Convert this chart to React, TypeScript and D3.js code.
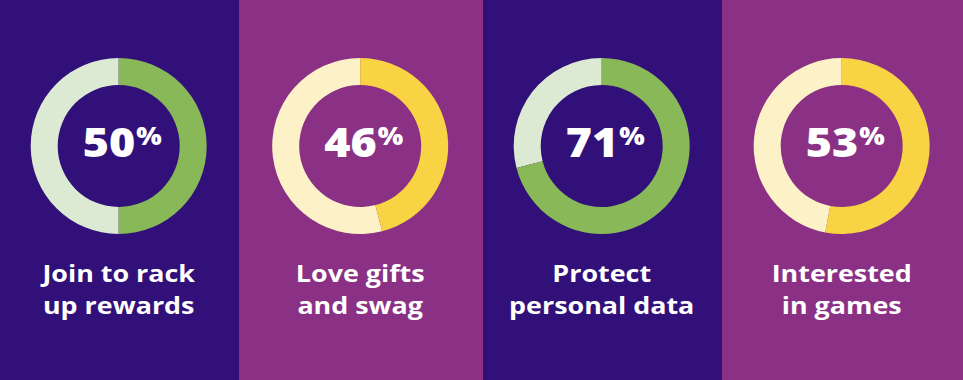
import React from "react";
import * as d3 from "d3";

const values = [50, 46, 71, 53];
const labelsLine1 = ["Join to rack", "Love gifts", "Protect", "Interested"];
const labelsLine2 = ["up rewards", "and swag", "personal data", "in games"];
const panelEdges = [0, 239, 483, 722, 963];
const bgColors = ["#32107a", "#8a3185", "#32107a", "#8a3185"];
const fillColors = ["#88b857", "#f8d444", "#88b857", "#f8d444"];
const restColors = ["#dceAd3", "#fdf1c8", "#dceAd3", "#fdf1c8"];

const W = 963;
const H = 380;
const FONT = "'Open Sans', 'Noto Sans', sans-serif";

export default function App() {
  const outerR = 88;
  const innerR = 61;
  const cy = 146;
  const arc = d3.arc<any>().innerRadius(innerR).outerRadius(outerR);
  const pct = d3.scaleLinear().domain([0, 100]).range([0, 2 * Math.PI]);
  return (
    <svg width={W} height={H} style={{ position: "absolute", left: 0, top: 0 }}>
      {values.map((v, i) => {
        const x0 = panelEdges[i];
        const x1 = panelEdges[i + 1];
        const cx = (x0 + x1) / 2 - 0.8;
        const a = pct(v);
        return (
          <g key={i}>
            <rect x={x0} y={0} width={x1 - x0} height={H} fill={bgColors[i]} />
            <g transform={`translate(${cx},${cy})`}>
              <path d={arc({ startAngle: a, endAngle: 2 * Math.PI }) as string} fill={restColors[i]} />
              <path d={arc({ startAngle: 0, endAngle: a }) as string} fill={fillColors[i]} />
              <g transform={`translate(3.5,11) scale(1.12,1)`}>
                <text
                  x={0}
                  y={0}
                  textAnchor="middle"
                  fill="#fff"
                  fontFamily={FONT}
                  fontWeight={800}
                  fontSize={40}
                >
                  {v}
                  <tspan fontSize={24} dy={-12} dx={1}>%</tspan>
                </text>
              </g>
            </g>
            <g transform={`translate(${cx},282) scale(1.12,1)`}>
              <text
                x={0}
                y={0}
                textAnchor="middle"
                fill="#fff"
                fontFamily={FONT}
                fontWeight={700}
                fontSize={24}
              >
                {labelsLine1[i]}
              </text>
            </g>
            <g transform={`translate(${cx},314) scale(1.12,1)`}>
              <text
                x={0}
                y={0}
                textAnchor="middle"
                fill="#fff"
                fontFamily={FONT}
                fontWeight={700}
                fontSize={24}
              >
                {labelsLine2[i]}
              </text>
            </g>
          </g>
        );
      })}
    </svg>
  );
}
